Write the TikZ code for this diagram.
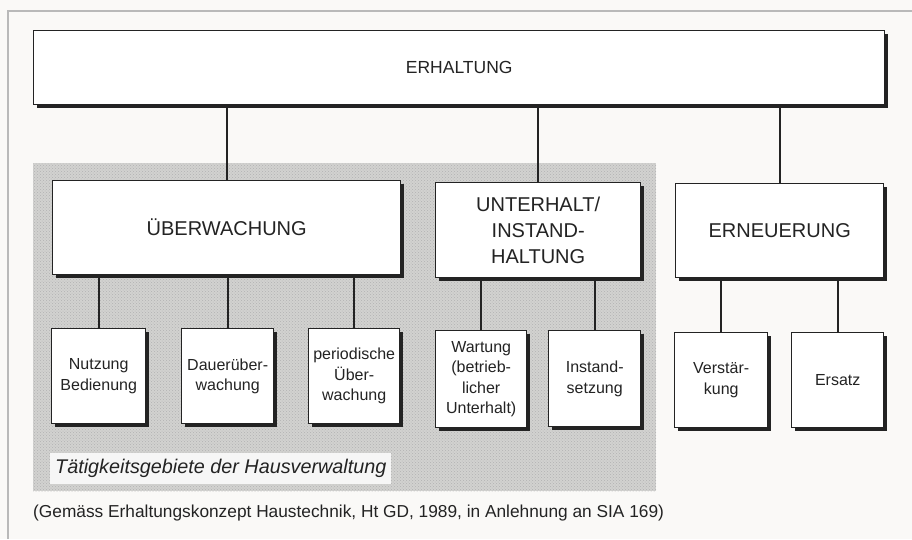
\documentclass[tikz,border=0pt]{standalone}
\usepackage{fontspec}
\setmainfont{Liberation Sans}
\usetikzlibrary{shadows,patterns}
\definecolor{paper}{RGB}{250,249,247}
\definecolor{halftone}{RGB}{210,210,208}
\definecolor{ink}{RGB}{35,35,35}
\begin{document}
\begin{tikzpicture}[x=1pt,y=-1pt,
  box/.style={draw=ink, line width=1.4pt, fill=white, align=center, inner sep=0pt,
    anchor=north west, text=ink,
    drop shadow={shadow xshift=3.5pt, shadow yshift=-3.5pt, fill=ink, opacity=1}},
  big/.style={box, font=\fontsize{20}{26}\selectfont},
  small/.style={box, font=\fontsize{16}{20.5}\selectfont},
  link/.style={draw=ink, line width=2.2pt}]
\useasboundingbox (0,0) rectangle (912,539);
\fill[paper] (0,0) rectangle (912,539);
\draw[gray!55, line width=1.2pt] (8,539) -- (8,11) -- (912,11);
\fill[halftone] (33,163) rectangle (656,491);
\fill[pattern=crosshatch dots, pattern color=gray!60] (33,163) rectangle (656,491);

\node[box, minimum width=851pt, minimum height=74pt, font=\fontsize{17.5}{20}\selectfont] (top) at (33,30) {ERHALTUNG};

\node[big, minimum width=348pt, minimum height=94pt] (ueb) at (52,180) {ÜBERWACHUNG};
\node[big, minimum width=205pt, minimum height=95pt] (unt) at (435,182) {UNTERHALT/\\INSTAND-\\HALTUNG};
\node[big, minimum width=208pt, minimum height=94pt] (ern) at (675,183) {ERNEUERUNG};

\node[small, minimum width=94pt, minimum height=95pt] (nutz) at (51,328) {Nutzung\\Bedienung};
\node[small, minimum width=92pt, minimum height=95pt] (dauer) at (181,328) {Dauerüber-\\wachung};
\node[small, minimum width=91pt, minimum height=95pt] (period) at (308,328) {periodische\\Über-\\wachung};
\node[small, minimum width=91pt, minimum height=97pt] (wart) at (435,330) {Wartung\\(betrieb-\\licher\\Unterhalt)};
\node[small, minimum width=92pt, minimum height=96pt] (inst) at (548,330) {Instand-\\setzung};
\node[small, minimum width=93pt, minimum height=95pt] (verst) at (674,332) {Verstär-\\kung};
\node[small, minimum width=92pt, minimum height=95pt] (ersatz) at (791,332) {Ersatz};

\foreach \c/\p in {ueb/top, unt/top, ern/top, nutz/ueb, dauer/ueb, period/ueb, wart/unt, inst/unt, verst/ern, ersatz/ern}
  \draw[link] (\c.north) -- (\c.north |- \p.south);

\node[anchor=west, fill=gray!7, text=ink, inner xsep=5pt, minimum height=31pt,
  font=\fontsize{19.8}{22}\selectfont\itshape] (lab) at (50,468) {Tätigkeitsgebiete der Hausverwaltung};

\node[anchor=west, inner sep=0pt, text=ink, font=\fontsize{17.3}{19}\selectfont] (cap) at (33,513)
  {(Gemäss Erhaltungskonzept Haustechnik, Ht GD, 1989, in Anlehnung an SIA 169)};
\end{tikzpicture}
\end{document}
